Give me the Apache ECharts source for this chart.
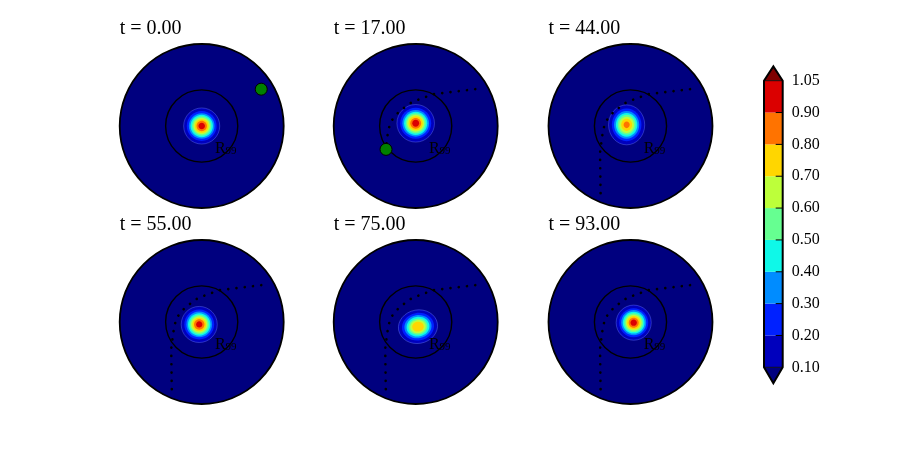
<!DOCTYPE html>
<html>
<head>
<meta charset="utf-8" />
<title>Contour snapshots</title>
<script src="https://cdn.jsdelivr.net/npm/echarts@6/dist/echarts.min.js"></script>
<style>
  html, body { margin: 0; padding: 0; background: #fff; }
  #chartmain { width: 900px; height: 450px; }
</style>
</head>
<body>
<div id="chartmain"></div>
<script type="text/javascript">
// time of each snapshot
var times = ['0.00', '17.00', '44.00', '55.00', '75.00', '93.00'];

// contour levels and the fill of each band (jet), plus the extend colours
var levels = [0.10, 0.20, 0.30, 0.40, 0.50, 0.60, 0.70, 0.80, 0.90, 1.05];
var bandColors = ['#0000bd', '#0021ff', '#008cff', '#0ff8e8', '#66ff91',
                  '#bdff3a', '#ffd600', '#ff7300', '#db0000'];
var underColor = '#00007f';
var overColor = '#7f0000';

// blob centre in each panel (units of the outer radius)
var blobX = [0.000, 0.000, -0.047, -0.030, 0.028, 0.039];
var blobY = [0.000, 0.033, 0.014, -0.030, -0.057, -0.008];
// stretch x / y and tilt (deg) of the contours
var blobSX = [1.00, 1.00, 0.95, 1.00, 1.08, 1.00];
var blobSY = [1.00, 1.00, 1.05, 1.00, 0.92, 1.00];
var blobRot = [0, 0, 0, 0, 10, 0];
// radius of contour 0.1 ... 0.9 in each panel, null = level not reached
var contourR = [
  [0.220, 0.182, 0.157, 0.137, 0.118, 0.100, 0.083, 0.063, 0.040],
  [0.229, 0.189, 0.163, 0.142, 0.123, 0.104, 0.086, 0.066, 0.042],
  [0.232, 0.190, 0.162, 0.138, 0.116, 0.094, 0.070, 0.039, null],
  [0.220, 0.182, 0.157, 0.137, 0.118, 0.100, 0.083, 0.063, 0.038],
  [0.222, 0.182, 0.154, 0.130, 0.108, 0.088, 0.065, null, null],
  [0.214, 0.177, 0.153, 0.133, 0.115, 0.097, 0.081, 0.061, 0.039]
];

// R99 circle radius
var innerR = 0.44;

// path of the marker
var trackX = [0.726, 0.217, 0.116, 0.026, -0.067, -0.148, -0.230, -0.303, -0.331, -0.348, -0.372, -0.364];
var trackY = [0.449, 0.388, 0.352, 0.319, 0.278, 0.217, 0.148, 0.055, -0.039, -0.140, -0.331, -0.852];
var trackShown = [0, 10, 12, 12, 12, 12];
// marker position (null = no marker)
var dotX = [0.726, -0.362, null, null, null, null];
var dotY = [0.449, -0.285, null, null, null, null];

// layout (pixels)
var panelCX = [201.7, 415.7, 630.5, 201.7, 415.7, 630.5];
var panelCY = [126, 126, 126, 322, 322, 322];
var diskPx = 82;
var serif = '"Liberation Serif", "DejaVu Serif", serif';

var myChart = echarts.init(document.getElementById('chartmain'));

var grids = [], xAxes = [], yAxes = [], titles = [], series = [];

for (var p = 0; p < times.length; p++) {
  grids.push({ left: panelCX[p] - diskPx, top: panelCY[p] - diskPx, width: 2 * diskPx, height: 2 * diskPx });
  xAxes.push({ type: 'value', gridIndex: p, min: -1, max: 1, show: false });
  yAxes.push({ type: 'value', gridIndex: p, min: -1, max: 1, show: false });
  titles.push({
    text: 't = ' + times[p],
    left: panelCX[p] - diskPx,
    top: panelCY[p] - 107,
    padding: 0,
    textStyle: { fontFamily: serif, fontSize: 20, fontWeight: 'normal', color: '#000' }
  });

  // disk background
  series.push({
    type: 'custom', xAxisIndex: p, yAxisIndex: p, z: 1, silent: true,
    data: [[0, 0, 1]],
    renderItem: function (params, api) {
      var c = api.coord([api.value(0), api.value(1)]);
      var r = api.size([api.value(2), api.value(2)])[0];
      return { type: 'circle', shape: { cx: c[0], cy: c[1], r: r }, style: { fill: underColor } };
    }
  });

  // filled contours, outermost first
  var cdata = [];
  for (var k = 0; k < contourR[p].length; k++) {
    if (contourR[p][k] != null) cdata.push([blobX[p], blobY[p], contourR[p][k], k]);
  }
  (function (p) {
    series.push({
      type: 'custom', xAxisIndex: p, yAxisIndex: p, z: 2, silent: true,
      data: cdata,
      renderItem: function (params, api) {
        var c = api.coord([api.value(0), api.value(1)]);
        var s = api.size([api.value(2), api.value(2)]);
        var k = api.value(3);
        return {
          type: 'ellipse',
          x: c[0], y: c[1],
          rotation: blobRot[p] * Math.PI / 180,
          shape: { cx: 0, cy: 0, rx: s[0] * blobSX[p], ry: s[1] * blobSY[p] },
          style: {
            fill: bandColors[k],
            stroke: k === 0 ? 'rgba(110,130,255,0.55)' : null,
            lineWidth: 0.7
          }
        };
      }
    });
  })(p);

  // outer rim, R99 circle and its label
  series.push({
    type: 'custom', xAxisIndex: p, yAxisIndex: p, z: 3, silent: true,
    data: [[0, 0, 1, innerR, 0.162, -0.277]],
    renderItem: function (params, api) {
      var c = api.coord([api.value(0), api.value(1)]);
      var rOut = api.size([api.value(2), 0])[0];
      var rIn = api.size([api.value(3), 0])[0];
      var t = api.coord([api.value(4), api.value(5)]);
      return {
        type: 'group',
        children: [
          { type: 'circle', shape: { cx: c[0], cy: c[1], r: rIn }, style: { fill: null, stroke: '#000', lineWidth: 1.4 } },
          { type: 'circle', shape: { cx: c[0], cy: c[1], r: rOut }, style: { fill: null, stroke: '#000', lineWidth: 1.8 } },
          { type: 'text', x: t[0], y: t[1], style: { text: 'R', font: '16px ' + serif, fill: '#000', align: 'left', verticalAlign: 'middle' } },
          { type: 'text', x: t[0] + 10.5, y: t[1] + 2.8, style: { text: '99', font: '11px ' + serif, fill: '#000', align: 'left', verticalAlign: 'middle' } }
        ]
      };
    }
  });

  // dotted track
  var tdata = [];
  for (var i = 0; i < trackShown[p]; i++) tdata.push([trackX[i], trackY[i]]);
  if (tdata.length && dotX[p] != null) tdata.push([dotX[p], dotY[p]]);
  if (tdata.length) {
    series.push({
      type: 'line', xAxisIndex: p, yAxisIndex: p, z: 4, silent: true,
      showSymbol: false, symbol: 'none',
      data: tdata,
      lineStyle: { color: '#000', width: 2.6, type: [0.1, 8.2], cap: 'round' }
    });
  }

  // marker
  if (dotX[p] != null) {
    series.push({
      type: 'scatter', xAxisIndex: p, yAxisIndex: p, z: 5, silent: true,
      symbolSize: 12,
      data: [[dotX[p], dotY[p]]],
      itemStyle: { color: '#008000', borderColor: '#000', borderWidth: 1, opacity: 1 }
    });
  }
}

// colour bar
var cb = times.length;
grids.push({ left: 764, top: 80.7, width: 18.7, height: 286.6 });
xAxes.push({ type: 'value', gridIndex: cb, min: 0, max: 1, show: false });
yAxes.push({
  type: 'value', gridIndex: cb, min: 0, max: levels.length - 1, interval: 1,
  position: 'right',
  axisLine: { show: false },
  splitLine: { show: false },
  axisTick: { show: false },
  axisLabel: {
    margin: 9, color: '#000', fontFamily: serif, fontSize: 16,
    formatter: function (v) { return levels[v].toFixed(2); }
  }
});

var cbData = [];
for (var b = 0; b < bandColors.length; b++) cbData.push([b, b + 1, b]);
series.push({
  type: 'custom', xAxisIndex: cb, yAxisIndex: cb, z: 1, silent: true,
  data: cbData,
  renderItem: function (params, api) {
    var p0 = api.coord([0, api.value(0)]);
    var p1 = api.coord([1, api.value(1)]);
    return {
      type: 'rect',
      shape: { x: p0[0], y: p1[1], width: p1[0] - p0[0], height: p0[1] - p1[1] },
      style: { fill: bandColors[api.value(2)] }
    };
  }
});
// extend triangles, tick marks and frame
series.push({
  type: 'custom', xAxisIndex: cb, yAxisIndex: cb, z: 3, silent: true,
  data: [[0, levels.length - 1, 0.5, 0.45]],
  renderItem: function (params, api) {
    var top = api.value(1);
    var under = api.value(2), over = api.value(3);
    var a = api.coord([0, 0]), bR = api.coord([1, 0]), tU = api.coord([0.5, -under]);
    var c = api.coord([0, top]), d = api.coord([1, top]), tO = api.coord([0.5, top + over]);
    var kids = [
      { type: 'polygon', shape: { points: [a, bR, tU] }, style: { fill: underColor } },
      { type: 'polygon', shape: { points: [c, d, tO] }, style: { fill: overColor } }
    ];
    for (var j = 1; j < top; j++) {
      var q = api.coord([1, j]);
      kids.push({ type: 'line', shape: { x1: q[0] - 7, y1: q[1], x2: q[0], y2: q[1] }, style: { stroke: '#000', lineWidth: 1 } });
    }
    kids.push({ type: 'line', shape: { x1: a[0], y1: a[1], x2: bR[0], y2: bR[1] }, style: { stroke: '#000', lineWidth: 0.8 } });
    kids.push({ type: 'line', shape: { x1: c[0], y1: c[1], x2: d[0], y2: d[1] }, style: { stroke: '#000', lineWidth: 0.8 } });
    kids.push({ type: 'polygon', shape: { points: [a, tU, bR, d, tO, c] }, style: { fill: null, stroke: '#000', lineWidth: 2 } });
    return { type: 'group', children: kids };
  }
});

var option = {
  backgroundColor: '#fff',
  animation: false,
  title: titles,
  grid: grids,
  xAxis: xAxes,
  yAxis: yAxes,
  series: series
};
myChart.setOption(option);
</script>
</body>
</html>
